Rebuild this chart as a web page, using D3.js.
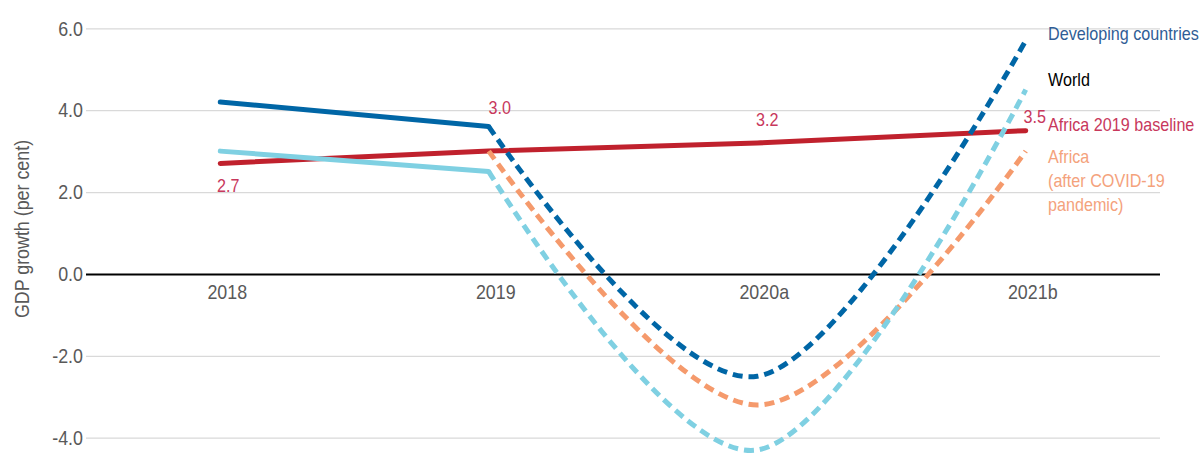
<!DOCTYPE html>
<html>
<head>
<meta charset="utf-8">
<script src="https://cdn.jsdelivr.net/npm/d3@7"></script>
<style>
  body { margin: 0; background: #fff; }
  svg text { font-family: "Liberation Sans", Arial, sans-serif; }
</style>
</head>
<body>
<div id="chart"></div>
<script>
// ---- datos ----
const years = ["2018", "2019", "2020a", "2021b"];
const developing = [4.2, 3.6, -2.5, 5.7];
const world = [3.0, 2.5, -4.3, 4.5];
const africaCovid = [null, 3.0, -3.2, 3.0];
const africaBaseline = [2.7, 3.0, 3.2, 3.5];
const yTicks = [-4, -2, 0, 2, 4, 6];
const baselineLabels = ["2.7", "3.0", "3.2", "3.5"];

// ---- layout ----
const width = 1200, height = 453;
const left = 86, right = 1160;
const narrow = 0.85; // la fuente original es estrecha (tipo Arial Narrow)
const colors = {
  developing: "#0066a6",
  world: "#7fd0e2",
  covid: "#f59a6c",
  baseline: "#c0212d",
  baselineText: "#c8385c",
  devText: "#2f5d96",
  covidText: "#f4a27c"
};
// desplazamiento de las etiquetas de la serie base (dx, dy desde el punto)
const labelOffsets = [[8, 29], [11, -37], [10, -17], [9, -8]];

const svg = d3.select("#chart").append("svg")
  .attr("width", width).attr("height", height);

const x = d3.scaleBand().domain(years).range([left, right]);
const cx = d => x(d) + x.bandwidth() / 2;
const y = d3.scaleLinear().domain([-4, 6]).range([437.7, 28.3]);

// rejilla + eje y
const yAxis = svg.append("g")
  .attr("transform", "translate(" + left + ",0)")
  .call(d3.axisLeft(y).tickValues(yTicks).tickFormat(d => d.toFixed(1))
    .tickSize(-(right - left)).tickPadding(3));
yAxis.select(".domain").remove();
yAxis.selectAll(".tick line")
  .attr("stroke", d => d === 0 ? "#000" : "#d9d9d9")
  .attr("stroke-width", d => d === 0 ? 2 : 1.3);
yAxis.selectAll(".tick text")
  .attr("fill", "#595959").style("font-size", "21px");

// eje x sobre el cero
const xAxis = svg.append("g")
  .attr("transform", "translate(0," + y(0) + ")")
  .call(d3.axisBottom(x).tickSize(0).tickPadding(10));
xAxis.select(".domain").remove();
xAxis.selectAll(".tick text")
  .attr("fill", "#595959").attr("dx", 7).style("font-size", "21px");

svg.append("text")
  .attr("transform", "translate(29,229) rotate(-90)")
  .attr("text-anchor", "middle")
  .attr("fill", "#595959")
  .style("font-size", "21px")
  .text("GDP growth (per cent)");

// ---- lineas ----
// tramo 2018-2019 recto y continuo, 2019-2021b suavizado y discontinuo
function pts(values, from, to) {
  const out = [];
  for (let i = from; i <= to; i++)
    if (values[i] !== null) out.push([cx(years[i]), y(values[i])]);
  return out;
}
const straight = d3.line();
const smooth = d3.line().curve(d3.curveCardinal.tension(0));

function draw(p, gen, color, dashed) {
  svg.append("path")
    .attr("d", gen(p))
    .attr("fill", "none")
    .attr("stroke", color)
    .attr("stroke-width", 5)
    .attr("stroke-linecap", dashed ? "butt" : "round")
    .attr("stroke-dasharray", dashed ? "10,6" : null);
}

draw(pts(africaBaseline, 0, 3), straight, colors.baseline, false);
draw(pts(africaCovid, 1, 3), smooth, colors.covid, true);
draw(pts(world, 0, 1), straight, colors.world, false);
draw(pts(world, 1, 3), smooth, colors.world, true);
draw(pts(developing, 0, 1), straight, colors.developing, false);
draw(pts(developing, 1, 3), smooth, colors.developing, true);

// etiquetas de valores de la serie base
svg.selectAll(".blabel").data(baselineLabels).enter()
  .append("text")
  .attr("class", "blabel")
  .attr("x", (d, i) => cx(years[i]) + labelOffsets[i][0])
  .attr("y", (d, i) => y(africaBaseline[i]) + labelOffsets[i][1])
  .attr("text-anchor", "middle")
  .attr("fill", colors.baselineText)
  .style("font-size", "19px")
  .text(d => d);

// ---- leyenda ----
const legend = [
  { lines: ["Developing countries"], color: colors.devText, y: 40 },
  { lines: ["World"], color: "#000", y: 86 },
  { lines: ["Africa 2019 baseline"], color: colors.baselineText, y: 131 },
  { lines: ["Africa", "(after COVID-19", "pandemic)"], color: colors.covidText, y: 163 }
];
legend.forEach(function(l) {
  const t = svg.append("text")
    .attr("x", 1048).attr("y", l.y)
    .attr("fill", l.color)
    .style("font-size", "19px");
  l.lines.forEach(function(s, i) {
    t.append("tspan").attr("x", 1048).attr("dy", i ? 24 : 0).text(s);
  });
});

// estrechar todos los textos
svg.selectAll("text").each(function() {
  const el = d3.select(this);
  const spans = el.selectAll("tspan");
  if (spans.empty()) {
    el.attr("textLength", this.getComputedTextLength() * narrow)
      .attr("lengthAdjust", "spacingAndGlyphs");
  } else {
    spans.each(function() {
      d3.select(this)
        .attr("textLength", this.getComputedTextLength() * narrow)
        .attr("lengthAdjust", "spacingAndGlyphs");
    });
  }
});
</script>
</body>
</html>
